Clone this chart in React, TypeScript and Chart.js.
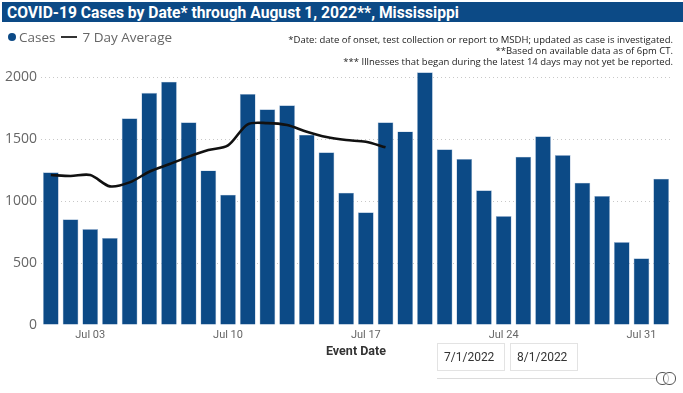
import React, { useEffect, useRef } from "react";
import { Chart, registerables } from "chart.js";

Chart.register(...registerables);

const categories: string[] = [
  "Jul 01", "Jul 02", "Jul 03", "Jul 04", "Jul 05", "Jul 06", "Jul 07", "Jul 08",
  "Jul 09", "Jul 10", "Jul 11", "Jul 12", "Jul 13", "Jul 14", "Jul 15", "Jul 16",
  "Jul 17", "Jul 18", "Jul 19", "Jul 20", "Jul 21", "Jul 22", "Jul 23", "Jul 24",
  "Jul 25", "Jul 26", "Jul 27", "Jul 28", "Jul 29", "Jul 30", "Jul 31", "Aug 01",
];

const cases: number[] = [
  1233, 854, 775, 703, 1670, 1876, 1965, 1637, 1249, 1053, 1866, 1742, 1775, 1537, 1395, 1069,
  910, 1637, 1564, 2041, 1419, 1341, 1088, 880, 1360, 1524, 1373, 1150, 1042, 670, 539, 1182,
];

const sevenDayAvg: (number | null)[] = [
  1212, 1204, 1212, 1120, 1152, 1238, 1298, 1360, 1413, 1451, 1621, 1631, 1615, 1561, 1518, 1494,
  1480, 1435, null, null, null, null, null, null, null, null, null, null, null, null, null, null,
];

const shownTicks: string[] = ["Jul 03", "Jul 10", "Jul 17", "Jul 24", "Jul 31"];
const yTicks: number[] = [0, 500, 1000, 1500, 2000];

const BLUE = "#0C4A86";
const COND = "Roboto, 'Liberation Sans Narrow', sans-serif";
const SANS = "'Open Sans', 'Noto Sans', sans-serif";

export default function App() {
  const ref = useRef<HTMLCanvasElement | null>(null);

  useEffect(() => {
    if (!ref.current) return;
    const chart = new Chart(ref.current, {
      type: "bar",
      data: {
        labels: categories,
        datasets: [
          {
            type: "line",
            label: "7 Day Average",
            data: sevenDayAvg,
            borderColor: "#111111",
            borderWidth: 2.6,
            pointRadius: 0,
            tension: 0.3,
            spanGaps: false,
            order: 0,
          } as any,
          {
            type: "bar",
            label: "Cases",
            data: cases,
            backgroundColor: BLUE,
            borderColor: "#9db6d3",
            borderWidth: 0.6,
            barPercentage: 0.8,
            categoryPercentage: 1,
            order: 1,
          } as any,
        ],
      },
      options: {
        responsive: false,
        animation: false,
        maintainAspectRatio: false,
        layout: { padding: { left: 0, right: 12, top: 70, bottom: 28 } },
        plugins: { legend: { display: false }, title: { display: false }, tooltip: { enabled: false } },
        scales: {
          x: {
            grid: { display: false, drawTicks: false },
            border: { display: false },
            ticks: {
              autoSkip: false,
              maxRotation: 0,
              padding: 4,
              color: "#666666",
              font: { family: COND, size: 11 },
              callback: function (this: any, v: any, i: number) {
                const lbl = categories[i];
                return shownTicks.includes(lbl) ? lbl : "";
              },
            },
            title: {
              display: true,
              text: "Event Date",
              color: "#333333",
              font: { family: COND, size: 12.5, weight: "bold" },
              padding: { top: 0, bottom: 6 },
            },
            afterFit: (scale: any) => {
              scale.height = 40;
            },
          },
          y: {
            min: 0,
            max: 2060,
            afterBuildTicks: (scale: any) => {
              scale.ticks = yTicks.map((v) => ({ value: v }));
            },
            grid: {
              drawTicks: false,
              color: (ctx: any) => (ctx.tick && ctx.tick.value === 0 ? "rgba(0,0,0,0)" : "#c8c8c8"),
              lineWidth: 1,
            },
            border: { display: false, dash: [1, 3] },
            ticks: {
              padding: 4,
              color: "#666666",
              font: { family: SANS, size: 14 },
              callback: (v: any) => String(v),
            },
            afterFit: (scale: any) => {
              scale.width = 41;
            },
          },
        },
      } as any,
    });
    return () => chart.destroy();
  }, []);

  return (
    <div style={{ position: "absolute", left: 0, top: 0, width: 683, height: 393, background: "#fff", overflow: "hidden" }}>
      <canvas ref={ref} width={683} height={393} style={{ position: "absolute", left: 0, top: 0, width: 683, height: 393 }} />
      <div
        style={{
          position: "absolute", left: 2, top: 2, width: 681, height: 20, background: BLUE, color: "#fff",
          fontFamily: COND, fontWeight: "bold", fontSize: 17, lineHeight: "20px", paddingLeft: 5, boxSizing: "border-box",
          whiteSpace: "nowrap",
        }}
      >
        <span style={{ display: "inline-block", transform: "scaleX(0.92)", transformOrigin: "left center" }}>
          COVID-19 Cases by Date* through August 1, 2022**, Mississippi
        </span>
      </div>
      <div style={{ position: "absolute", left: 8, top: 27, height: 20, display: "flex", alignItems: "center", fontFamily: SANS, fontSize: 13.5, color: "#666", whiteSpace: "nowrap" }}>
        <span style={{ display: "inline-block", width: 8, height: 8, borderRadius: 4, background: BLUE, marginRight: 3 }} />
        <span>Cases</span>
        <span style={{ display: "inline-block", width: 16, height: 2, background: "#333", margin: "0 5px 0 6px" }} />
        <span>7 Day Average</span>
      </div>
      <div style={{ position: "absolute", right: 10, top: 34, textAlign: "right", fontFamily: SANS, fontSize: 9.5, lineHeight: "11px", color: "#222", whiteSpace: "nowrap" }}>
        <div>*Date: date of onset, test collection or report to MSDH; updated as case is investigated.</div>
        <div>**Based on available data as of 6pm CT.</div>
        <div>*** Illnesses that began during the latest 14 days may not yet be reported.</div>
      </div>
      <div style={{ position: "absolute", left: 437, top: 343, width: 68, height: 28, border: "1px solid #e3e3e3", boxSizing: "border-box", fontFamily: COND, fontSize: 12, color: "#333", lineHeight: "26px", paddingLeft: 6 }}>
        7/1/2022
      </div>
      <div style={{ position: "absolute", left: 510, top: 343, width: 68, height: 28, border: "1px solid #e3e3e3", boxSizing: "border-box", fontFamily: COND, fontSize: 12, color: "#333", lineHeight: "26px", paddingLeft: 6 }}>
        8/1/2022
      </div>
      <div style={{ position: "absolute", left: 437, top: 378, width: 228, height: 1, background: "#dcdcdc" }} />
      <div style={{ position: "absolute", left: 656, top: 372, width: 11, height: 11, borderRadius: 6, border: "1px solid #555", background: "#fff" }} />
      <div style={{ position: "absolute", left: 663, top: 372, width: 11, height: 11, borderRadius: 6, border: "1px solid #555", background: "rgba(255,255,255,0.6)" }} />
    </div>
  );
}
